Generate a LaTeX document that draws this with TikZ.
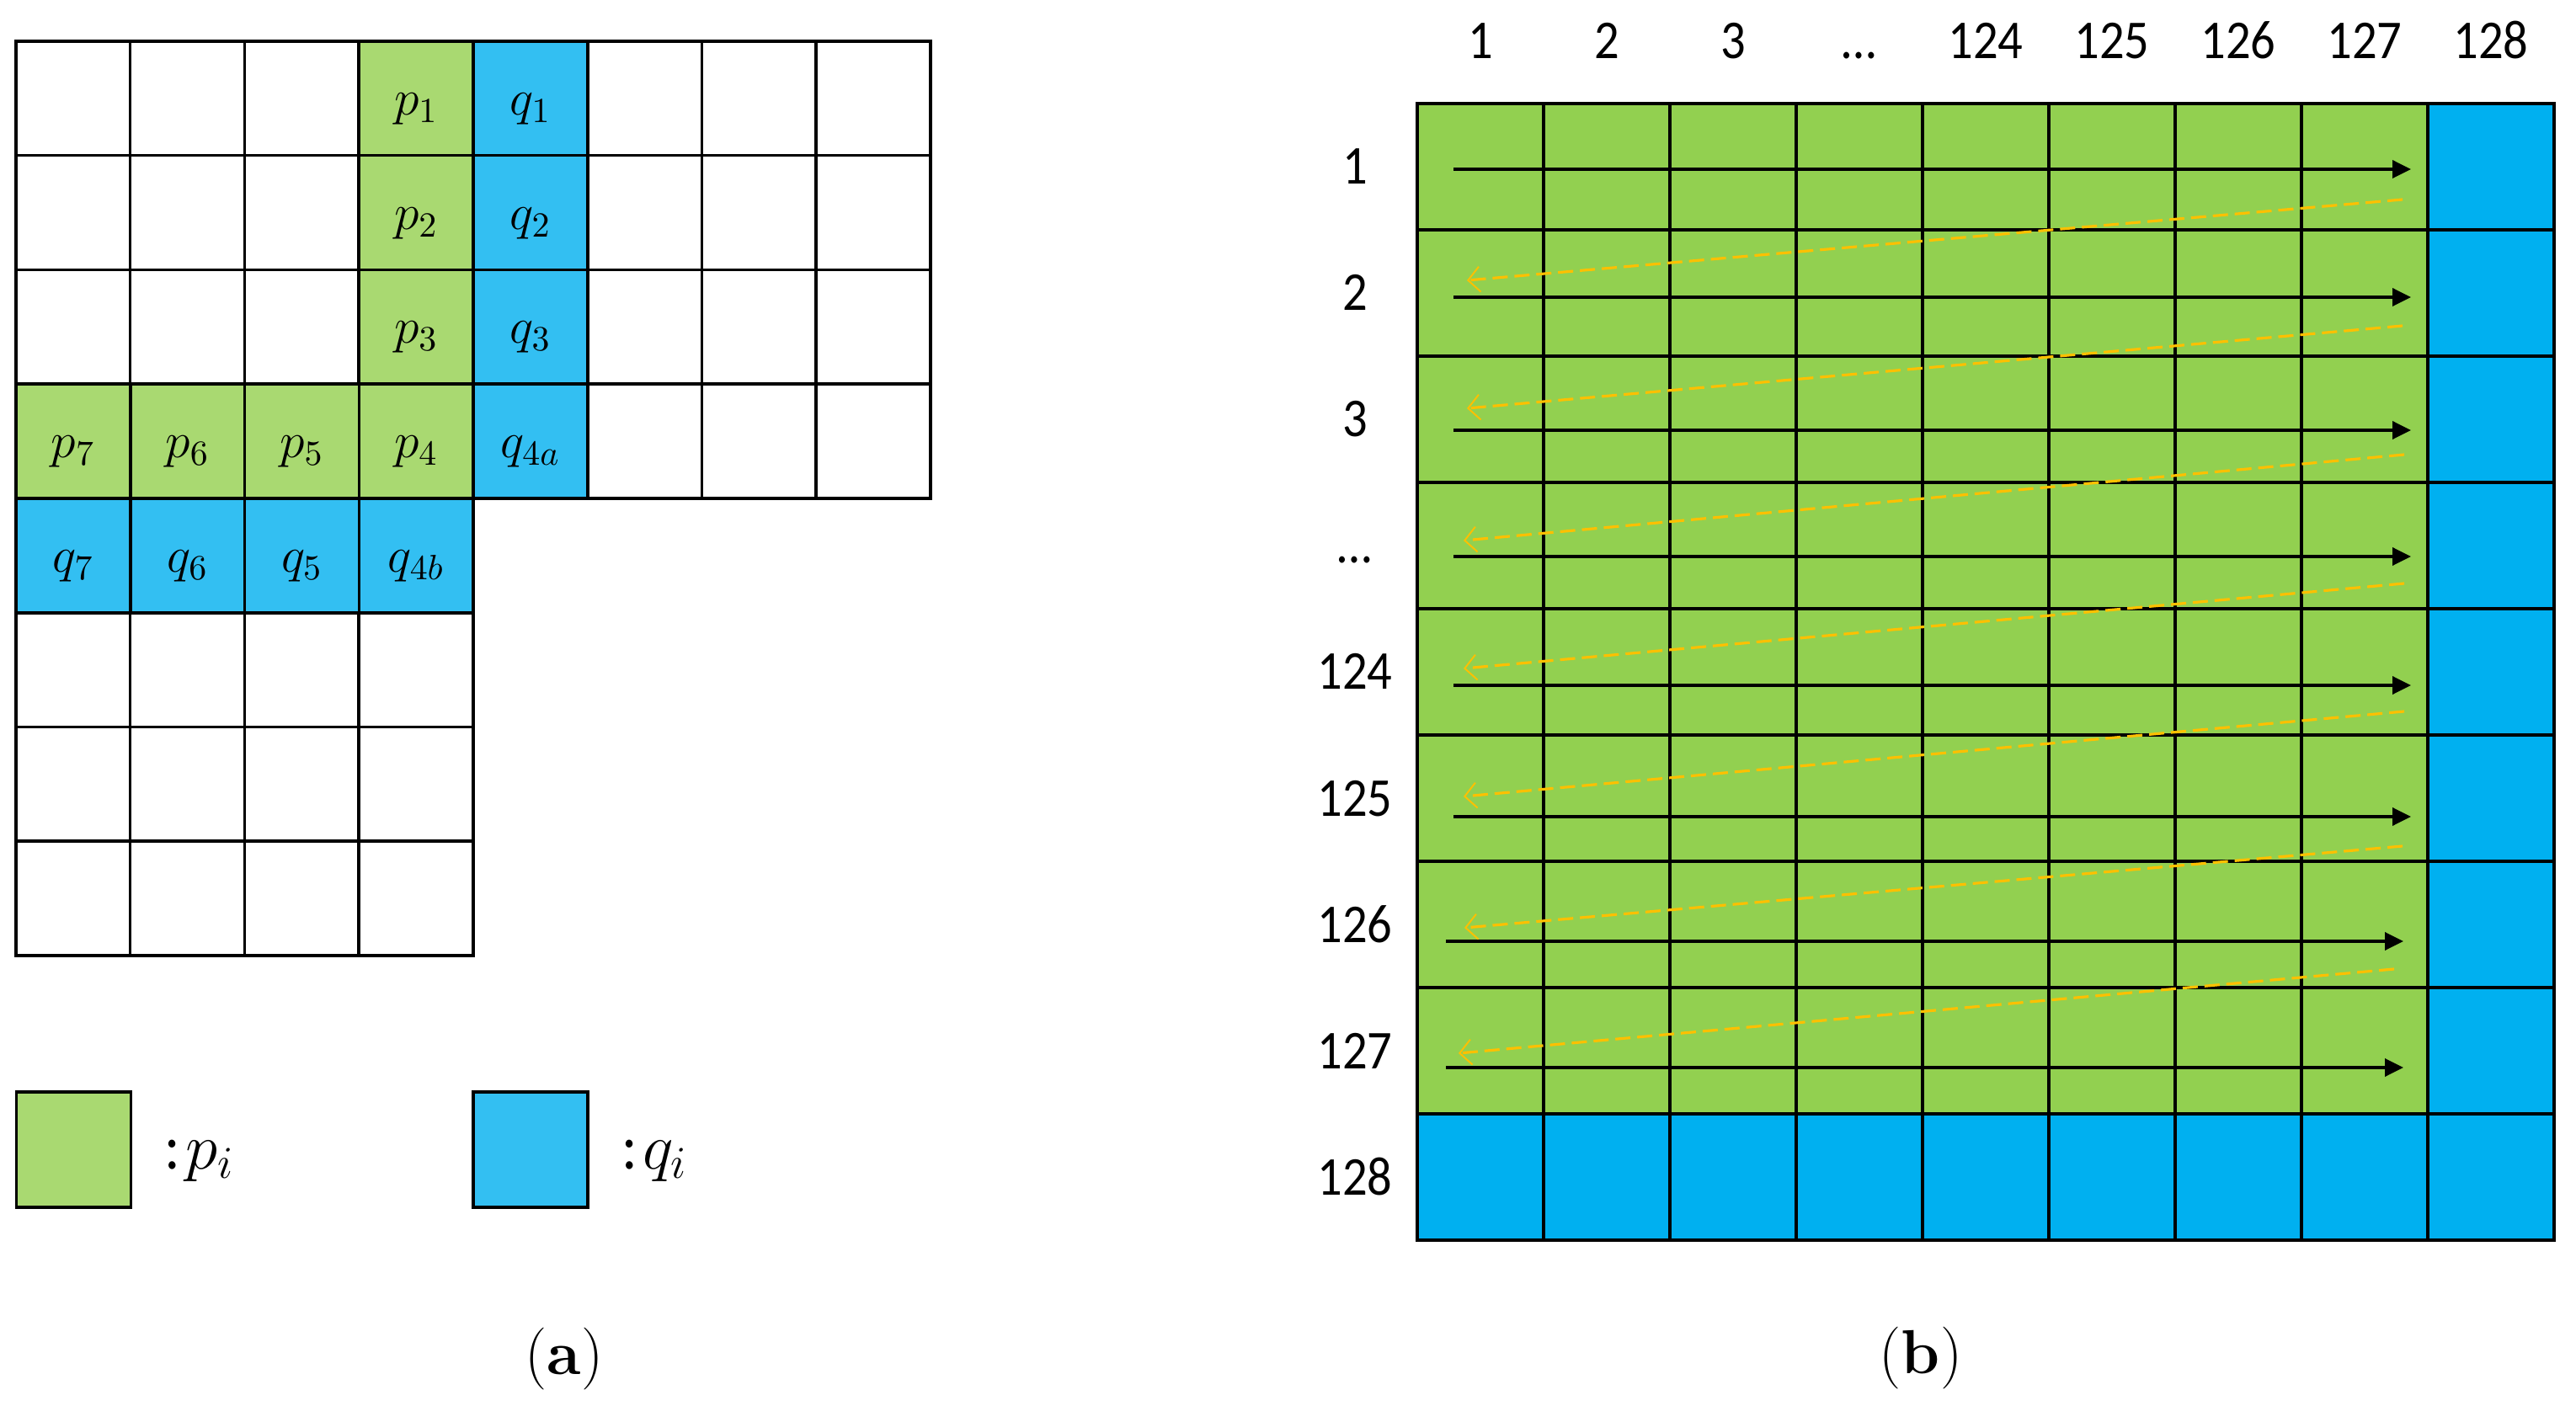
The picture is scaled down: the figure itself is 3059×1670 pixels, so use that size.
\RequirePackage{fix-cm}
\documentclass[tikz,border=0pt]{standalone}
\usepackage{fontspec}
\newfontfamily\calib[FakeStretch=0.9]{Carlito}
\usetikzlibrary{arrows.meta}
\definecolor{pA}{RGB}{169,217,113}
\definecolor{qA}{RGB}{51,191,242}
\definecolor{pB}{RGB}{146,208,80}
\definecolor{qB}{RGB}{0,176,240}
\definecolor{trace}{RGB}{255,192,0}
\begin{document}
\begin{tikzpicture}[x=0.01cm,y=-0.01cm,
  cellA/.style={draw=black, line width=1pt, minimum width=1.3575cm, minimum height=1.3575cm,
    inner sep=0pt, outer sep=0pt, text height=0.45cm, text depth=0.06cm, font=\fontsize{17}{19}\selectfont},
  cellB/.style={draw=black, line width=1pt, minimum width=1.5cm, minimum height=1.5cm, inner sep=0pt, outer sep=0pt},
  idx/.style={font=\calib\fontsize{18.5}{20}\selectfont, inner sep=0pt, anchor=base},
  legtext/.style={font=\fontsize{22}{24}\selectfont, inner sep=0pt, anchor=base west},
  caption/.style={font=\fontsize{21}{24}\selectfont, inner sep=0pt},
  scan/.style={line width=1pt, -{Triangle[length=0.22cm,width=0.21cm]}},
  ret/.style={draw=trace, line width=0.9pt, dash pattern=on 0.18cm off 0.08cm,
    -{Straight Barb[length=0.14cm,width=0.3cm,line width=0.55pt]}}]
\useasboundingbox (0,0) rectangle (3059,1670);

% ---------- (a) ----------
\foreach \r in {0,1,2}{\foreach \c in {0,1,2,5,6,7}{
  \node[cellA, fill=white] (a\r\c) at ({19+135.75*\c+67.875},{49+135.75*\r+67.875}) {};}}
\foreach \c in {5,6,7}{
  \node[cellA, fill=white] (a3\c) at ({19+135.75*\c+67.875},{49+135.75*3+67.875}) {};}
\foreach \r in {5,6,7}{\foreach \c in {0,1,2,3}{
  \node[cellA, fill=white] (a\r\c) at ({19+135.75*\c+67.875},{49+135.75*\r+67.875}) {};}}
\foreach \r/\c/\t in {0/3/p_1,1/3/p_2,2/3/p_3,3/3/p_4,3/2/p_5,3/1/p_6,3/0/p_7}{
  \node[cellA, fill=pA] (a\r\c) at ({19+135.75*\c+67.875},{49+135.75*\r+67.875}) {$\t$};}
\foreach \r/\c/\t in {0/4/q_1,1/4/q_2,2/4/q_3,3/4/q_{4a},4/3/q_{4b},4/2/q_5,4/1/q_6,4/0/q_7}{
  \node[cellA, fill=qA] (a\r\c) at ({19+135.75*\c+67.875},{49+135.75*\r+67.875}) {$\t$};}

% legend
\node[cellA, fill=pA, minimum height=1.37cm] (legp) at (87.5,1365.5) {};
\node[cellA, fill=qA, minimum height=1.37cm] (legq) at (630,1365.5) {};
\node[legtext] (legpt) at (195,1388) {{\calib :}\hspace{0.06cm}$p_i$};
\node[legtext] (legqt) at (738,1388) {{\calib :}\hspace{0.06cm}$q_i$};

\node[caption] (capa) at (670,1614) {(\textbf{a})};

% ---------- (b) ----------
\foreach \r in {0,...,7}{\foreach \c in {0,...,7}{
  \node[cellB, fill=pB] (b\r-\c) at ({1683+150*\c+75},{123+150*\r+75}) {};}}
\foreach \r in {0,...,8}{
  \node[cellB, fill=qB] (b\r-8) at ({1683+150*8+75},{123+150*\r+75}) {};}
\foreach \c in {0,...,7}{
  \node[cellB, fill=qB] (b8-\c) at ({1683+150*\c+75},{123+150*8+75}) {};}

\foreach \c/\t in {0/1,1/2,2/3,3/…,4/124,5/125,6/126,7/127,8/128}{
  \node[idx] (col\c) at ({1758+150*\c},70) {\t};}
\foreach \r/\t in {0/1,1/2,2/3,3/…,4/124,5/125,6/126,7/127,8/128}{
  \node[idx] (row\r) at (1609,{198+150*\r+21}) {\t};}

\foreach \i/\y/\xs/\xe in {0/201/1726/2863,1/353/1726/2863,2/511/1726/2863,3/661/1726/2863,
  4/814/1726/2863,5/970/1726/2863,6/1118/1717/2854,7/1268/1717/2854}{
  \coordinate (s\i) at (\xs,\y);
  \coordinate (e\i) at (\xe,\y);
  \draw[scan] (s\i) -- (e\i);}

\foreach \i/\xa/\ya/\xb/\yb in {0/2853/237/1742/333,1/2853/387/1742/485,2/2855/540/1738/642,
  3/2855/693/1738/794,4/2855/845/1738/946,5/2853/1005/1739/1102,6/2843/1151/1732/1251}{
  \coordinate (rs\i) at (\xa,\ya);
  \coordinate (re\i) at (\xb,\yb);
  \draw[ret] (rs\i) -- (re\i);}

\node[caption] (capb) at (2281,1613) {(\textbf{b})};
\end{tikzpicture}
\end{document}
